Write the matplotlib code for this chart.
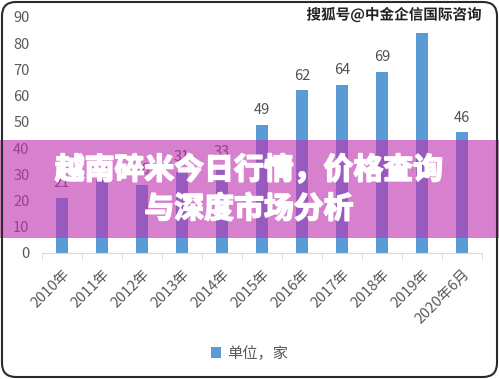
import matplotlib
matplotlib.use("Agg")
import matplotlib.pyplot as plt
import matplotlib.patheffects as pe
from matplotlib.patches import Rectangle, FancyBboxPatch
from matplotlib.transforms import IdentityTransform

plt.rcParams['font.family'] = ['Noto Sans CJK SC', 'DejaVu Sans']

# data (2011-2013 partly hidden, estimated)
years = ['2010年', '2011年', '2012年', '2013年', '2014年', '2015年',
         '2016年', '2017年', '2018年', '2019年', '2020年6月']
counts = [21, 28, 26, 31, 33, 49, 62, 64, 69, 84, 46]
yticks = [0, 10, 20, 30, 40, 50, 60, 70, 80, 90]
series_name = '单位，家'
title_lines = ['越南碎米今日行情，价格查询', '与深度市场分析']
watermark = '搜狐号@中金企信国际咨询'

W, H = 499, 379
fig = plt.figure(figsize=(W / 100, H / 100), dpi=100)
ax = fig.add_axes([42 / W, 126 / H, 440 / W, 236 / H])

x = list(range(len(years)))
bars = ax.bar(x, counts, width=0.3, color='#5B9BD5', label=series_name)
for xi, v in zip(x, counts):
    ax.text(xi, v + 3, str(v), ha='center', va='bottom', fontsize=10.5, color='#505050')

ax.set_xlim(-0.5, len(years) - 0.5)
ax.set_ylim(0, 90)
ax.set_yticks(yticks)
ax.tick_params(axis='y', length=0, labelsize=10.5, labelcolor='#595959', pad=9)

ax.set_xticks(x)
ax.set_xticklabels(years, rotation=45, ha='right', va='top', rotation_mode='anchor',
                   fontsize=10.5, color='#595959')
ax.set_xticks([i - 0.5 for i in range(len(years) + 1)], minor=True)
ax.tick_params(axis='x', which='major', length=0, pad=10)
ax.tick_params(axis='x', which='minor', length=5, color='#d9d9d9')

for s in ['top', 'right', 'left']:
    ax.spines[s].set_visible(False)
ax.spines['bottom'].set_color('#d9d9d9')

leg = fig.legend(handles=[bars], labels=[series_name], loc='center', bbox_to_anchor=(0.5, 26 / H),
                 frameon=False, fontsize=11, handlelength=0.7, handleheight=0.7, handletextpad=0.4)
for t in leg.get_texts():
    t.set_color('#595959')

# watermark top right
fig.text(482 / W, 364 / H, watermark, ha='right', va='center', fontsize=10.5, fontweight='bold',
         color='#222222', zorder=6,
         bbox=dict(facecolor='white', edgecolor='none', pad=2),
         path_effects=[pe.withStroke(linewidth=2, foreground='white')])

# pink banner with title
band = Rectangle((0, 141 / H), 1, 98 / H, transform=fig.transFigure,
                 facecolor=(190 / 255, 50 / 255, 176 / 255), alpha=0.62, edgecolor='none', zorder=5)
fig.add_artist(band)
bold = [pe.withStroke(linewidth=1.2, foreground='white')]
fig.text(249 / W, 1 - 170 / H, title_lines[0], ha='center', va='center', fontsize=21.5,
         fontweight='heavy', color='white', zorder=7, path_effects=bold)
fig.text(249 / W, 1 - 209 / H, title_lines[1], ha='center', va='center', fontsize=21.5,
         fontweight='heavy', color='white', zorder=7, path_effects=bold)

# rounded frame
frame = FancyBboxPatch((2, 2), W - 4, H - 4, boxstyle='round,pad=0,rounding_size=14',
                       transform=IdentityTransform(), fill=False, linewidth=1.5,
                       edgecolor='#2b2b2b', zorder=8)
fig.add_artist(frame)

fig.savefig('out.png', dpi=100)
